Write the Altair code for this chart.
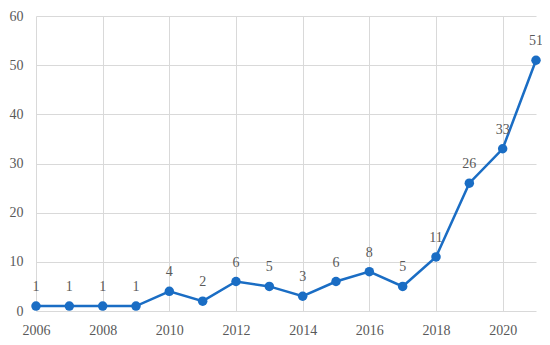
import altair as alt
import pandas as pd

years = list(range(2006, 2022))
counts = [1, 1, 1, 1, 4, 2, 6, 5, 3, 6, 8, 5, 11, 26, 33, 51]
x_ticks = [2006, 2008, 2010, 2012, 2014, 2016, 2018, 2020]
y_ticks = [0, 10, 20, 30, 40, 50, 60]

df = pd.DataFrame({"year": years, "count": counts})

FONT = "Liberation Serif"
GRAY = "#595959"
BLUE = "#1a6dc4"

base = alt.Chart(df).encode(
    x=alt.X("year:Q",
            scale=alt.Scale(domain=[2006, 2021], nice=False, zero=False),
            axis=alt.Axis(values=x_ticks, format="d", title=None, labelPadding=12, labelFlush=False)),
    y=alt.Y("count:Q",
            scale=alt.Scale(domain=[0, 60], nice=False),
            axis=alt.Axis(values=y_ticks, title=None, labelPadding=13)),
)

line = base.mark_line(color=BLUE, strokeWidth=2.5)
pts = base.mark_point(filled=True, color=BLUE, size=90, opacity=1)
labels = base.mark_text(font=FONT, fontSize=14, color=GRAY, dy=-19, baseline="middle").encode(
    text="count:Q")

chart = (line + pts + labels).properties(
    width=500, height=295,
    autosize=alt.AutoSizeParams(type="none"),
    padding={"left": 28, "top": 8, "right": 6, "bottom": 26},
).configure_view(stroke=None).configure_axis(
    labelFont=FONT, labelFontSize=14, labelColor=GRAY, domain=False, ticks=False,
    grid=True, gridColor="#d9d9d9", gridWidth=1,
)

chart.save("out.html", embed_options={"renderer": "svg", "actions": False})
